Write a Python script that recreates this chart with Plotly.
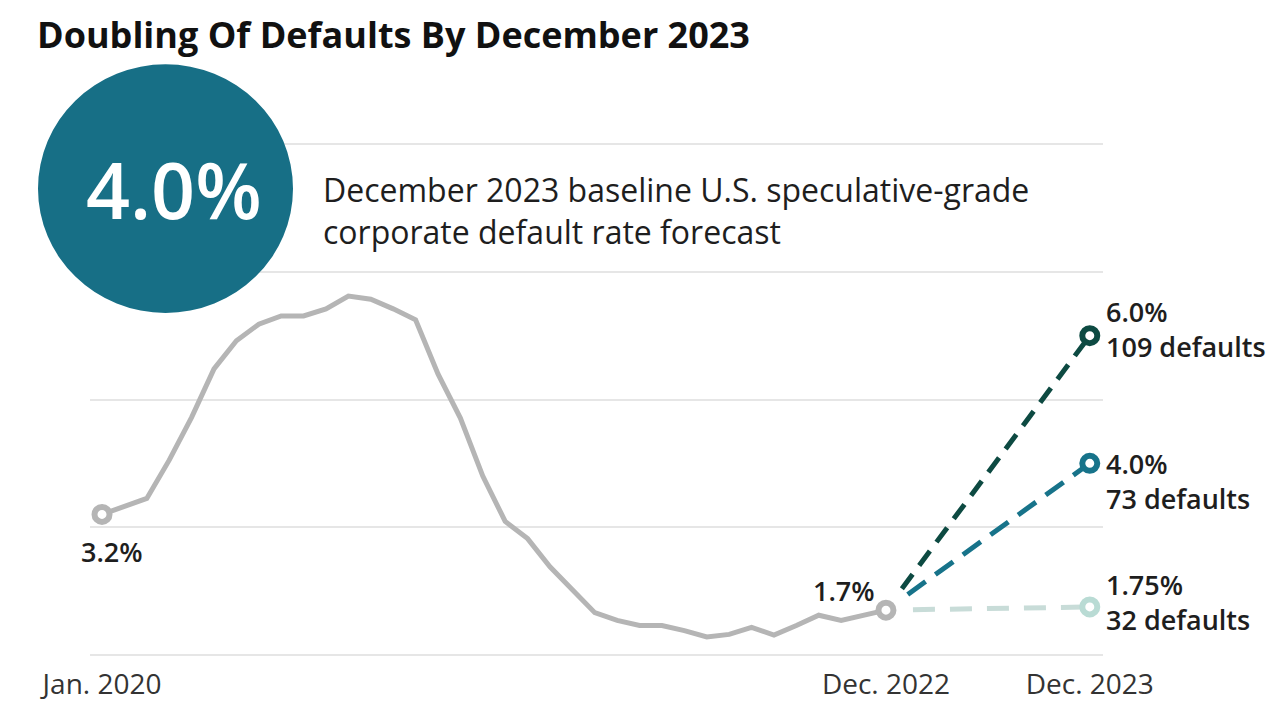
import plotly.graph_objects as go

# ---------------- data ----------------
hist_labels = ["Jan. 2020", "Dec. 2022"]
hist_rate = [3.20, 3.32, 3.45, 4.05, 4.72, 5.48, 5.92, 6.18, 6.31, 6.31,
             6.42, 6.62, 6.57, 6.42, 6.25, 5.40, 4.71, 3.80, 3.09, 2.82,
             2.38, 2.02, 1.66, 1.54, 1.46, 1.46, 1.38, 1.28, 1.32, 1.43,
             1.31, 1.46, 1.62, 1.54, 1.63, 1.70]
hist_month = list(range(len(hist_rate)))          # months since Jan. 2020
forecast_label = "Dec. 2023"
forecast_pos = 44.1                                # compressed axis slot for Dec. 2023
scenario_rate = [6.0, 4.0, 1.75]
scenario_defaults = [109, 73, 32]
scenario_rate_text = ["6.0%", "4.0%", "1.75%"]
headline_value = "4.0%"
headline_text = "December 2023 baseline U.S. speculative-grade<br>corporate default rate forecast"
title_text = "Doubling Of Defaults By December 2023"
grid_vals = [1, 3, 5, 7, 9]

# ---------------- layout / styles ----------------
OFF = 8                      # page body margin of the html page
W, H = 1280 - OFF, 714 - OFF
X_RANGE = [-0.536, 44.69]
Y_RANGE = [0.95, 9.05]
# plot box in screen pixels
PL, PR, PT, PB = 90, 1103, 141, 667
L, R, T, B = PL - OFF, W - (PR - OFF), PT - OFF, H - (PB - OFF)
PW, PH = PR - PL, PB - PT
PX_X = PW / (X_RANGE[1] - X_RANGE[0])
PX_Y = PH / (Y_RANGE[1] - Y_RANGE[0])

GRAY = "#b5b5b5"
sc_colors = ["#0d4a42", "#17738a", "#b9dbd4"]
sc_line_colors = ["#0d4a42", "#17738a", "#c8dcd8"]
sc_dash = ["18px,11px", "22px,12px", "22px,15px"]
TEXT = "#1e1e1e"
FONT = "Open Sans"


def paper_x(px):
    return (px - PL) / PW


def paper_y(py):
    return (PB - py) / PH


fig = go.Figure()

# forecast dashed lines (start slightly after the Dec. 2022 marker)
x0, y0 = hist_month[-1], hist_rate[-1]
GAP = 27
for i, v in enumerate(scenario_rate):
    dxp = (forecast_pos - x0) * PX_X
    dyp = (v - y0) * PX_Y
    ln = (dxp ** 2 + dyp ** 2) ** 0.5
    f = GAP / ln
    fig.add_trace(go.Scatter(
        x=[x0 + f * (forecast_pos - x0), forecast_pos],
        y=[y0 + f * (v - y0), v],
        mode="lines",
        line=dict(color=sc_line_colors[i], width=5, dash=sc_dash[i]),
        hoverinfo="skip", showlegend=False, cliponaxis=False))

# historical line
fig.add_trace(go.Scatter(
    x=hist_month, y=hist_rate, mode="lines",
    line=dict(color=GRAY, width=5),
    showlegend=False, cliponaxis=False))

# historical end markers
fig.add_trace(go.Scatter(
    x=[hist_month[0], hist_month[-1]], y=[hist_rate[0], hist_rate[-1]],
    mode="markers",
    marker=dict(size=15, color="white", line=dict(color=GRAY, width=6)),
    showlegend=False, cliponaxis=False))

# forecast markers
fig.add_trace(go.Scatter(
    x=[forecast_pos] * len(scenario_rate), y=scenario_rate,
    mode="markers",
    marker=dict(size=15, color="white", line=dict(color=sc_colors, width=6)),
    showlegend=False, cliponaxis=False))

LABEL_FONT = dict(family=FONT, size=27, color=TEXT, weight=600)
annotations = []
# scenario labels
label_yshift = [7, -18, 5]
for i, v in enumerate(scenario_rate):
    annotations.append(dict(
        x=forecast_pos, y=v, xref="x", yref="y",
        text=f"{scenario_rate_text[i]}<br>{scenario_defaults[i]} defaults",
        showarrow=False, xanchor="left", yanchor="middle",
        xshift=14, yshift=label_yshift[i], align="left",
        font=LABEL_FONT))

# endpoint labels for historical line
annotations.append(dict(
    x=hist_month[0], y=hist_rate[0], xref="x", yref="y",
    text=f"{hist_rate[0]:.1f}%", showarrow=False,
    xanchor="center", yanchor="middle", xshift=10, yshift=-37,
    font=LABEL_FONT))
annotations.append(dict(
    x=hist_month[-1], y=hist_rate[-1], xref="x", yref="y",
    text=f"{hist_rate[-1]:.1f}%", showarrow=False,
    xanchor="center", yanchor="middle", xshift=-42, yshift=20,
    font=LABEL_FONT))

# headline circle value & text
annotations.append(dict(
    x=paper_x(174), y=paper_y(190), xref="paper", yref="paper",
    text=headline_value, showarrow=False, xanchor="center", yanchor="middle",
    font=dict(family=FONT, size=77, color="white", weight=600)))
annotations.append(dict(
    x=paper_x(321), y=paper_y(212), xref="paper", yref="paper",
    text=headline_text, showarrow=False, xanchor="left", yanchor="middle",
    align="left",
    font=dict(family=FONT, size=32, color=TEXT)))

fig.update_layout(
    width=W, height=H,
    margin=dict(l=L, r=R, t=T, b=B),
    paper_bgcolor="white", plot_bgcolor="white",
    title=dict(text=f"<b>{title_text}</b>", xref="container", yref="container",
               x=(37 - OFF) / W, y=1 - (35 - OFF) / H, xanchor="left", yanchor="middle",
               font=dict(family=FONT, size=36, color="#111111")),
    xaxis=dict(range=X_RANGE, tickvals=[hist_month[0], hist_month[-1], forecast_pos],
               ticktext=hist_labels + [forecast_label], showgrid=False,
               zeroline=False, showline=False, ticks="",
               ticklabelstandoff=7,
               tickfont=dict(family=FONT, size=28, color="#333333")),
    yaxis=dict(range=Y_RANGE, tickvals=grid_vals, showticklabels=False,
               showgrid=True, gridcolor="#e6e6e6", gridwidth=1.5,
               zeroline=False, showline=False),
    shapes=[dict(type="circle", xref="paper", yref="paper",
                 x0=paper_x(38), x1=paper_x(293), y0=paper_y(316), y1=paper_y(63),
                 fillcolor="#176f86", line=dict(width=0), layer="above")],
    annotations=annotations,
)

fig.write_html("out.html")
